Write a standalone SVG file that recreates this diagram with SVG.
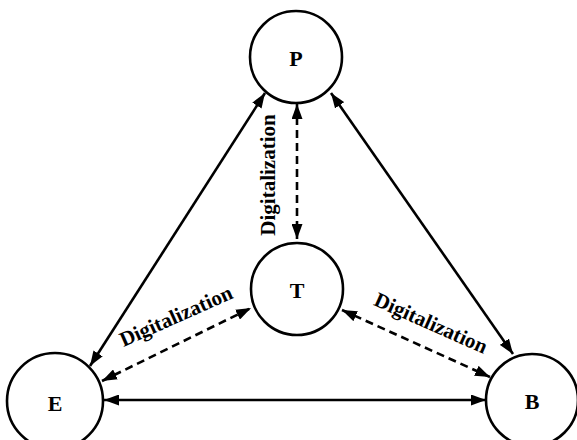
<svg xmlns="http://www.w3.org/2000/svg" width="577" height="440" viewBox="0 0 577 440">
<style>
.node{fill:#fff;stroke:#000;stroke-width:2.6}
.nl{font-family:"Liberation Serif","Times New Roman",serif;font-weight:bold;font-size:22px;text-anchor:middle;dominant-baseline:central;fill:#000}
.c{stroke:#000;stroke-width:2.6;fill:none;marker-start:url(#ah);marker-end:url(#ah)}
.d{stroke-dasharray:8 5}
.lbl{font-family:"Liberation Serif","Times New Roman",serif;font-weight:bold;font-size:21px;text-anchor:middle;dominant-baseline:central;fill:#000}
</style>
<defs>
<marker id="ah" viewBox="0 0 15 11" refX="15" refY="5.5" markerWidth="15" markerHeight="11" markerUnits="userSpaceOnUse" orient="auto-start-reverse">
<path d="M0,0 L15,5.5 L0,11 z" fill="#000" stroke="none"/>
</marker>
</defs>
<rect width="577" height="440" fill="#fff"/>
<g id="connectors">
<line class="c" x1="265" y1="93" x2="90" y2="366"/>
<line class="c" x1="331" y1="93" x2="513" y2="354"/>
<line class="c" x1="104" y1="400" x2="486" y2="400"/>
<line class="c d" x1="297" y1="104" x2="297" y2="239"/>
<line class="c d" x1="102" y1="381" x2="251" y2="308"/>
<line class="c d" x1="342" y1="310" x2="490" y2="377"/>
<text class="lbl" transform="translate(268,175) rotate(-90)">Digitalization</text>
<text class="lbl" transform="translate(176,316) rotate(-24)">Digitalization</text>
<text class="lbl" transform="translate(431,323) rotate(24)">Digitalization</text>
</g>
<g id="P"><circle class="node" cx="296" cy="57" r="46"/><text class="nl" x="296" y="58">P</text></g>
<g id="T"><circle class="node" cx="297" cy="289" r="46"/><text class="nl" x="297" y="290">T</text></g>
<g id="E"><circle class="node" cx="55" cy="401" r="48"/><text class="nl" x="55" y="403">E</text></g>
<g id="B"><circle class="node" cx="532" cy="400" r="46"/><text class="nl" x="532" y="401">B</text></g>
</svg>
